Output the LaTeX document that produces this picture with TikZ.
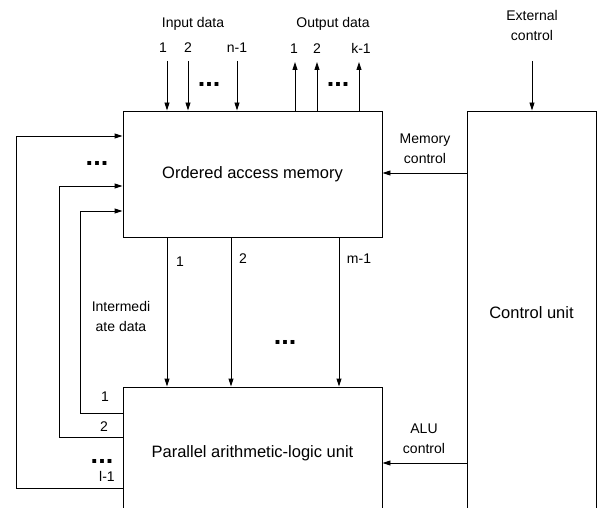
\documentclass[tikz,border=0pt]{standalone}
\usepackage{fontspec}
\setmainfont{Liberation Sans}
\usetikzlibrary{arrows.meta}
\begin{document}
\begin{tikzpicture}[x=1pt,y=-1pt,
  box/.style={draw,line width=0.9pt,inner sep=0pt,font=\fontsize{16.5}{20}\selectfont},
  arr/.style={line width=0.9pt,-{Triangle[length=8pt,width=5pt]}},
  lbl/.style={font=\fontsize{14}{20}\selectfont,inner sep=0pt,align=center},
  dotsty/.style={font=\fontsize{27}{27}\selectfont\bfseries,inner sep=0pt}]
\useasboundingbox (0,0) rectangle (597,508);
\clip (0,0) rectangle (597,508);
% boxes
\node[box,minimum width=259pt,minimum height=126pt] (mem) at (252.5,174) {Ordered access memory};
\node[box,minimum width=259pt,minimum height=131.5pt] (alu) at (252.5,452.75) {Parallel arithmetic-logic unit};
\node[box,minimum width=129pt,minimum height=404pt] (cu) at (531.5,313) {Control unit};
% input arrows
\coordinate (i1) at (167,61);
\coordinate (i2) at (188,61);
\coordinate (i3) at (237,61);
\draw[arr] (i1) -- (i1 |- mem.north);
\draw[arr] (i2) -- (i2 |- mem.north);
\draw[arr] (i3) -- (i3 |- mem.north);
% output arrows
\coordinate (o1) at (295,62);
\coordinate (o2) at (317,62);
\coordinate (o3) at (359,62);
\draw[arr] (o1 |- mem.north) -- (o1);
\draw[arr] (o2 |- mem.north) -- (o2);
\draw[arr] (o3 |- mem.north) -- (o3);
% external control
\coordinate (ext) at (532,61);
\draw[arr] (ext) -- (ext |- cu.north);
% control signals
\coordinate (mc) at (0,173);
\coordinate (ac) at (0,463);
\draw[arr] (mc -| cu.west) -- (mc -| mem.east);
\draw[arr] (ac -| cu.west) -- (ac -| alu.east);
% memory to ALU
\coordinate (d1) at (167,0);
\coordinate (d2) at (231,0);
\coordinate (d3) at (339,0);
\draw[arr] (d1 |- mem.south) -- (d1 |- alu.north);
\draw[arr] (d2 |- mem.south) -- (d2 |- alu.north);
\draw[arr] (d3 |- mem.south) -- (d3 |- alu.north);
% feedback
\coordinate (f1) at (80,413);
\coordinate (f1t) at (80,211);
\coordinate (f2) at (59,437);
\coordinate (f2t) at (59,186);
\coordinate (f3) at (16,488);
\coordinate (f3t) at (16,136);
\draw[arr] (f1 -| alu.west) -- (f1) -- (f1t) -- (f1t -| mem.west);
\draw[arr] (f2 -| alu.west) -- (f2) -- (f2t) -- (f2t -| mem.west);
\draw[arr] (f3 -| alu.west) -- (f3) -- (f3t) -- (f3t -| mem.west);
% labels
\node[lbl,anchor=base] (tin) at (193,28) {Input data};
\node[lbl,anchor=base] (tout) at (333,28) {Output data};
\node[lbl,anchor=base] (li1) at (163,53) {1};
\node[lbl,anchor=base] (li2) at (188,53) {2};
\node[lbl,anchor=base] (li3) at (237,53) {n-1};
\node[lbl,anchor=base] (lo1) at (294,54) {1};
\node[lbl,anchor=base] (lo2) at (317,54) {2};
\node[lbl,anchor=base] (lo3) at (361,54) {k-1};
\node[lbl] (lext) at (532,25) {External\\control};
\node[lbl] (lmc) at (425,149) {Memory\\control};
\node[lbl] (lac) at (424,439) {ALU\\control};
\node[lbl] (lint) at (121,316) {Intermedi\\ate data};
\node[lbl,anchor=base] (ld1) at (180,266) {1};
\node[lbl,anchor=base] (ld2) at (243,263) {2};
\node[lbl,anchor=base] (ld3) at (359,263) {m-1};
\node[lbl,anchor=base] (lf1) at (105,401) {1};
\node[lbl,anchor=base] (lf2) at (104,431) {2};
\node[lbl,anchor=base] (lf3) at (107,481) {l-1};
% dots
\node[dotsty] (dt1) at (209,84) {...};
\node[dotsty] (dt2) at (338,84) {...};
\node[dotsty] (dt3) at (97,163) {...};
\node[dotsty] (dt4) at (285,342) {...};
\node[dotsty] (dt5) at (102,461) {...};
\end{tikzpicture}
\end{document}
